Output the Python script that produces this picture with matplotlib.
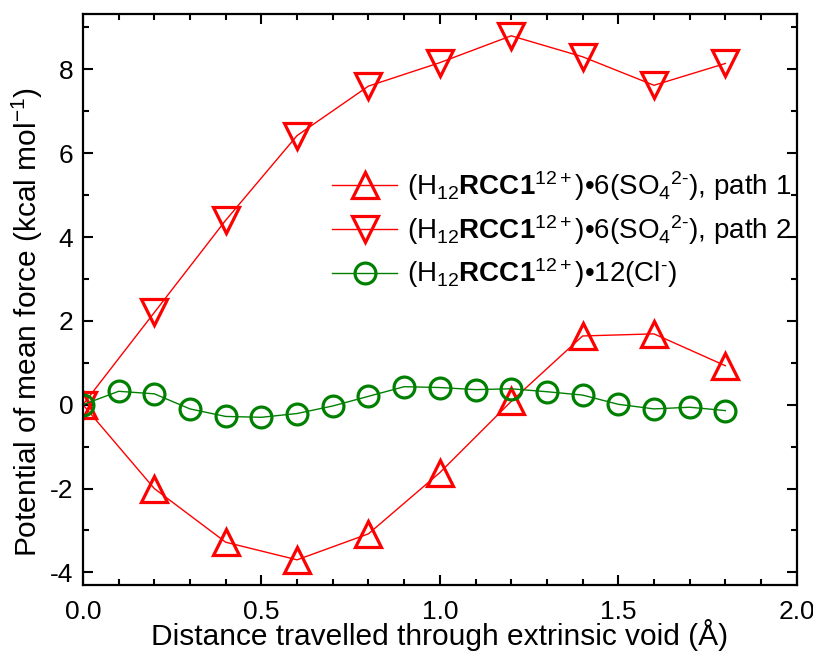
import numpy as np
import matplotlib
matplotlib.use("Agg")
import matplotlib.pyplot as plt
from matplotlib.ticker import MultipleLocator

plt.rcParams['font.family'] = ['Liberation Sans', 'DejaVu Sans']
plt.rcParams['mathtext.fontset'] = 'custom'
plt.rcParams['mathtext.rm'] = 'Liberation Sans'
plt.rcParams['mathtext.it'] = 'Liberation Sans:italic'
plt.rcParams['mathtext.bf'] = 'Liberation Sans:bold'
plt.rcParams['axes.unicode_minus'] = False

#data
x_so4 = [0.0, 0.2, 0.4, 0.6, 0.8, 1.0, 1.2, 1.4, 1.6, 1.8]
path1 = [0.0, -2.0, -3.28, -3.7, -3.08, -1.62, 0.08, 1.64, 1.69, 0.93]
path2 = [0.0, 2.2, 4.4, 6.42, 7.6, 8.16, 8.8, 8.3, 7.62, 8.14]

x_cl = [0.0, 0.1, 0.2, 0.3, 0.4, 0.5, 0.6, 0.7, 0.8, 0.9,
        1.0, 1.1, 1.2, 1.3, 1.4, 1.5, 1.6, 1.7, 1.8]
cl = [0.0, 0.32, 0.26, -0.1, -0.28, -0.3, -0.21, -0.03, 0.2, 0.43,
      0.41, 0.36, 0.38, 0.31, 0.23, 0.01, -0.1, -0.06, -0.14]

labels = [
    r"(H$_{12}$$\mathbf{RCC1}$$^{12+}$)•6(SO$_4$$^{2\text{-}}$), path 1",
    r"(H$_{12}$$\mathbf{RCC1}$$^{12+}$)•6(SO$_4$$^{2\text{-}}$), path 2",
    r"(H$_{12}$$\mathbf{RCC1}$$^{12+}$)•12(Cl$^{\text{-}}$)",
]

fig = plt.figure(figsize=(8.13, 6.52), dpi=100)
ax = fig.add_axes([0.102, 0.1028, 0.878, 0.8757])

#open markers, thin connecting lines
ax.plot(x_so4, path1, color="red", lw=1, marker="^", ms=19, mew=2.3,
        mfc="none", label=labels[0])
ax.plot(x_so4, path2, color="red", lw=1, marker="v", ms=19, mew=2.3,
        mfc="none", label=labels[1])
ax.plot(x_cl, cl, color="green", lw=1, marker="o", ms=15, mew=2.3,
        mfc="none", label=labels[2])

ax.set_xlim(0, 2.0)
ax.set_ylim(-4.3, 9.32)
ax.xaxis.set_major_locator(MultipleLocator(0.5))
ax.xaxis.set_minor_locator(MultipleLocator(0.1))
ax.yaxis.set_major_locator(MultipleLocator(2))
ax.yaxis.set_minor_locator(MultipleLocator(1))
ax.tick_params(which="both", direction="in", top=True, right=True,
               width=1.5, labelsize=19)
ax.tick_params(which="major", length=7)
ax.tick_params(which="minor", length=4)
ax.tick_params(axis="x", pad=11)
ax.tick_params(axis="y", pad=7)
for s in ax.spines.values():
    s.set_linewidth(1.6)

ax.set_xlabel("Distance travelled through extrinsic void (Å)", fontsize=21.5,
              labelpad=-4)
ax.set_ylabel("Potential of mean force (kcal mol$^{-1}$)", fontsize=21.5)
ax.yaxis.set_label_coords(-0.053, 0.46)

ax.legend(loc="center left", bbox_to_anchor=(0.349, 0.622), frameon=False,
          fontsize=20, handlelength=2.35, handletextpad=0.36,
          labelspacing=0.35, borderaxespad=0, borderpad=0)

fig.savefig("out.png", dpi=100)
